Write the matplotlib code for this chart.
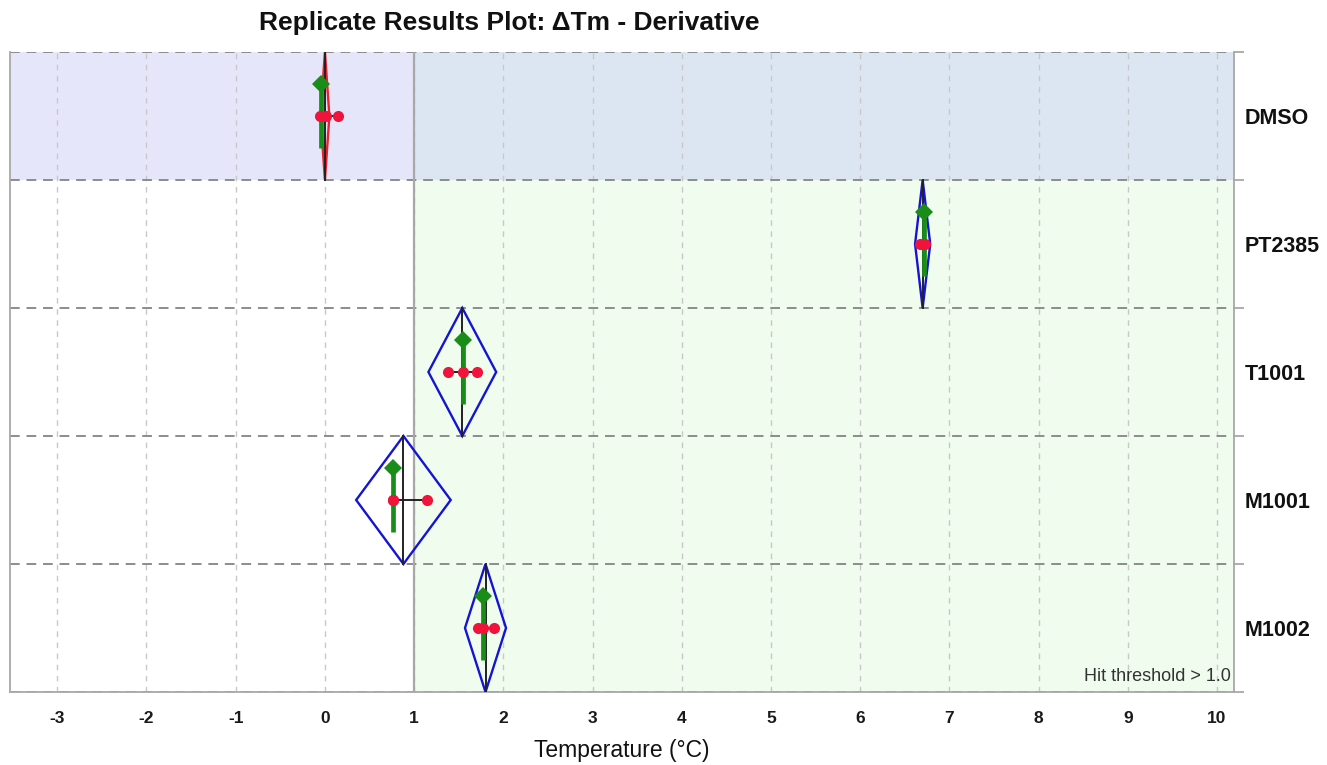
import matplotlib
matplotlib.use("Agg")
import matplotlib.pyplot as plt
import numpy as np
from matplotlib.patches import Polygon

plt.rcParams['font.family'] = ['Liberation Sans', 'DejaVu Sans']

# ---- data ----
compounds = ["DMSO", "PT2385", "T1001", "M1001", "M1002"]
mean_dtm = [0.0, 6.70, 1.54, 0.88, 1.80]
ci_half = [0.05, 0.085, 0.38, 0.53, 0.23]
median_dtm = [-0.04, 6.71, 1.55, 0.76, 1.77]
replicates = [
    [-0.06, 0.01, 0.15],
    [6.67, 6.70, 6.73],
    [1.38, 1.55, 1.70],
    [0.76, 0.76, 1.14],
    [1.72, 1.77, 1.89],
]
hit_threshold = 1.0
xticks = list(range(-3, 11))
xlim = (-3.53, 10.19)

fig = plt.figure(figsize=(13.27, 7.65), dpi=100)
ax = fig.add_axes([10/1327, 1-692/765, (1234-10)/1327, (692-52)/765])
ax.set_xlim(*xlim)
ax.set_ylim(len(compounds)-0.5, -0.5)

# backgrounds
for i, name in enumerate(compounds):
    if name == "DMSO":
        left_c, right_c = "#e6e6fa", "#dce6f2"
    else:
        left_c, right_c = "#ffffff", "#effcee"
    ax.fill_betweenx([i-0.5, i+0.5], xlim[0], hit_threshold, color=left_c, lw=0, zorder=0)
    ax.fill_betweenx([i-0.5, i+0.5], hit_threshold, xlim[1], color=right_c, lw=0, zorder=0)

# grid
for xt in xticks:
    ax.axvline(xt, color="#c8c8c8", lw=1.0, ls=(0, (4, 4)), zorder=1)
for i in range(len(compounds)+1):
    ax.axhline(i-0.5, color="#8c8c8c", lw=1.4, ls=(0, (5, 3.5)), zorder=1)
ax.axvline(hit_threshold, color="#a8a8a8", lw=1.6, zorder=1)

# marks
for i, name in enumerate(compounds):
    m = mean_dtm[i]
    h = ci_half[i]
    col = "#e8202c" if name == "DMSO" else "#1414d2"
    poly = Polygon([[m, i-0.5], [m+h, i], [m, i+0.5], [m-h, i]], closed=True,
                   fill=False, edgecolor=col, lw=1.7, zorder=3)
    ax.add_patch(poly)
    ax.plot([m, m], [i-0.5, i+0.5], color="#222222", lw=1.4, zorder=4)
    reps = replicates[i]
    ax.plot([min(reps), max(reps)], [i, i], color="#222222", lw=1.4, zorder=4)
    md = median_dtm[i]
    ax.plot([md, md], [i-0.25, i+0.25], color="#1a8c1a", lw=3.4, zorder=5,
            solid_capstyle="butt")
    ax.plot([md], [i-0.25], marker="D", color="#1a8c1a", ms=9, zorder=6, mew=0)
    ax.plot(reps, [i]*len(reps), "o", color="#f0143c", ms=8, mew=0, zorder=7)

# axes styling
for s in ["left", "bottom", "right"]:
    ax.spines[s].set_color("#a8a8a8")
    ax.spines[s].set_linewidth(1.3)
ax.spines["top"].set_visible(False)

ax.set_xticks(xticks)
ax.set_xticklabels([str(t) for t in xticks], fontsize=12.5, fontweight="bold",
                   color="#1a1a1a")
ax.tick_params(axis="x", length=0, pad=14)

ax.yaxis.tick_right()
ax.set_yticks(range(len(compounds)))
ax.set_yticklabels(compounds, fontsize=15.5, fontweight="bold", color="#111111")
ax.tick_params(axis="y", which="major", length=0, pad=8)
ax.set_yticks([i-0.5 for i in range(len(compounds)+1)], minor=True)
ax.tick_params(axis="y", which="minor", length=7, color="#a8a8a8", width=1.3,
               right=True, left=False)

ax.text(10.15, 4.38, "Hit threshold > 1.0", ha="right", va="center",
        fontsize=13, color="#333333", zorder=8)

fig.text(509/1327, 1-23/765, "Replicate Results Plot: \u0394Tm - Derivative",
         ha="center", va="center", fontsize=19, fontweight="bold", color="#111111")
fig.text(622/1327, 1-750/765, "Temperature (\u00b0C)", ha="center", va="center",
         fontsize=16.5, color="#111111")

fig.savefig("out.png", dpi=100)
